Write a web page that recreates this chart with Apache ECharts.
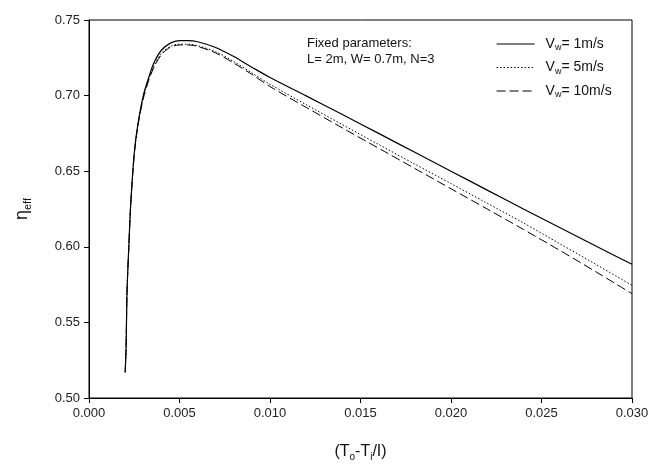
<!DOCTYPE html>
<html>
<head>
<meta charset="utf-8">
<script src="https://cdn.jsdelivr.net/npm/echarts@6/dist/echarts.min.js"></script>
<style>html,body{margin:0;padding:0;background:#fff}#c{width:660px;height:467px}</style>
</head>
<body>
<div id="c"></div>
<script>
const xValues = [0.0020, 0.00205, 0.0021, 0.0022, 0.0023, 0.0025, 0.0027, 0.0030, 0.0033, 0.0036, 0.0040, 0.0045, 0.0050, 0.0055, 0.0060, 0.0070, 0.0080, 0.0090, 0.0100, 0.0120, 0.0140, 0.0160, 0.0180, 0.0200, 0.0220, 0.0240, 0.0260, 0.0280, 0.0300];
const eta1 = [0.517, 0.534, 0.570, 0.600, 0.627, 0.662, 0.681, 0.700, 0.712, 0.722, 0.730, 0.7347, 0.7363, 0.7364, 0.7356, 0.7318, 0.7258, 0.7188, 0.7120, 0.6998, 0.6875, 0.6750, 0.6625, 0.6500, 0.6375, 0.6250, 0.6128, 0.6005, 0.5884];
const eta5 = [0.517, 0.534, 0.570, 0.600, 0.627, 0.661, 0.680, 0.699, 0.711, 0.720, 0.728, 0.7325, 0.7340, 0.7340, 0.7330, 0.7290, 0.7225, 0.7150, 0.7075, 0.6940, 0.6808, 0.6677, 0.6547, 0.6418, 0.6288, 0.6158, 0.6021, 0.5884, 0.5745];
const eta10 = [0.517, 0.534, 0.570, 0.600, 0.627, 0.661, 0.680, 0.698, 0.710, 0.719, 0.727, 0.7320, 0.7335, 0.7335, 0.7325, 0.7282, 0.7215, 0.7140, 0.7060, 0.6922, 0.6786, 0.6652, 0.6518, 0.6384, 0.6250, 0.6115, 0.5977, 0.5835, 0.5690];
const seriesNames = ['Vw= 1m/s', 'Vw= 5m/s', 'Vw= 10m/s'];
const legendLabels = {'Vw= 1m/s': 'V{sub|w}= 1m/s', 'Vw= 5m/s': 'V{sub|w}= 5m/s', 'Vw= 10m/s': 'V{sub|w}= 10m/s'};
const xTicks = {min: 0, max: 0.03, interval: 0.005};
const yTicks = {min: 0.5, max: 0.75, interval: 0.05};

const font = 'Liberation Sans, Arial, sans-serif';
function pairs(ys) { return xValues.map((x, i) => [x, ys[i]]); }

const chart = echarts.init(document.getElementById('c'));
chart.setOption({
  animation: false,
  backgroundColor: '#fff',
  grid: {left: 89, right: 28, top: 20, bottom: 67, show: true, borderColor: '#000', borderWidth: 1},
  xAxis: {
    type: 'value', min: xTicks.min, max: xTicks.max, interval: xTicks.interval,
    axisLine: {lineStyle: {color: '#000', width: 1}},
    axisTick: {show: true, length: 5, lineStyle: {color: '#000'}},
    splitLine: {show: false},
    axisLabel: {color: '#222', fontFamily: font, fontSize: 13, margin: 9, formatter: v => v.toFixed(3)},
    name: '(T{sub|o}-T{sub|i}/I)', nameLocation: 'middle', nameGap: 44,
    nameTextStyle: {color: '#111', fontFamily: font, fontSize: 16,
      rich: {sub: {fontFamily: font, fontSize: 10, color: '#111', padding: [10, 0, 0, 0]}}}
  },
  yAxis: {
    type: 'value', min: yTicks.min, max: yTicks.max, interval: yTicks.interval,
    axisLine: {show: true, lineStyle: {color: '#000', width: 1}},
    axisTick: {show: true, length: 5, lineStyle: {color: '#000'}},
    splitLine: {show: false},
    axisLabel: {color: '#222', fontFamily: font, fontSize: 13, margin: 9, formatter: v => v.toFixed(2)},
    name: '\u03b7{sub|eff}', nameLocation: 'middle', nameGap: 56, nameRotate: 90,
    nameTextStyle: {color: '#111', fontFamily: font, fontSize: 18,
      rich: {sub: {fontFamily: font, fontSize: 11, color: '#111', padding: [10, 0, 0, 0]}}}
  },
  legend: {
    data: seriesNames, orient: 'vertical', left: 491, top: 32, itemGap: 8,
    itemWidth: 38, itemHeight: 16,
    itemStyle: {opacity: 0},
    lineStyle: {width: 1.2},
    formatter: n => legendLabels[n],
    textStyle: {color: '#111', fontFamily: font, fontSize: 14, padding: [0, 0, 0, 6],
      rich: {sub: {fontFamily: font, fontSize: 9, color: '#111', padding: [8, 0, 0, 0]}}}
  },
  graphic: [{
    type: 'text', left: 307, top: 35,
    style: {text: 'Fixed parameters:\nL= 2m, W= 0.7m, N=3', font: '13px ' + font, fill: '#111', lineHeight: 16}
  }],
  series: [
    {name: seriesNames[0], type: 'line', data: pairs(eta1), smooth: 0.3, symbol: 'none', lineStyle: {color: '#000', width: 1.2, type: 'solid'}, itemStyle: {color: '#000'}},
    {name: seriesNames[1], type: 'line', data: pairs(eta5), smooth: 0.3, symbol: 'none', lineStyle: {color: '#000', width: 1, type: [1.5, 2]}, itemStyle: {color: '#000'}},
    {name: seriesNames[2], type: 'line', data: pairs(eta10), smooth: 0.3, symbol: 'none', lineStyle: {color: '#000', width: 1, type: [9, 4]}, itemStyle: {color: '#000'}}
  ]
});
</script>
</body>
</html>
